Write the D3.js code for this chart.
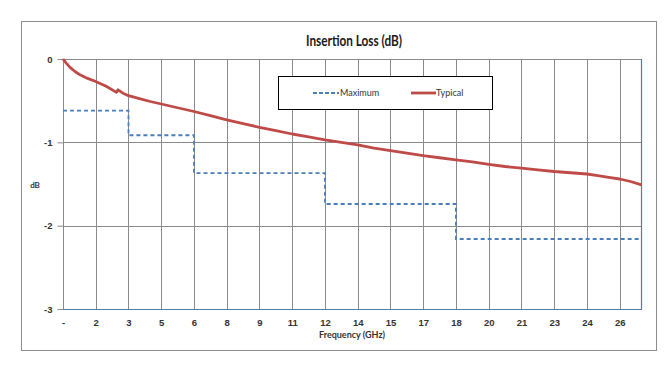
<!DOCTYPE html>
<html>
<head>
<meta charset="utf-8">
<script src="https://cdn.jsdelivr.net/npm/d3@7/dist/d3.min.js"></script>
<style>
  body { margin: 0; background: #fff; }
  svg { display: block; font-family: Lato, "Open Sans", sans-serif; }
</style>
</head>
<body>
<svg width="665" height="368"></svg>
<script>
// frequency ticks every 1.5 GHz, labelled with 0 decimals like the sheet
var tickFreqs = [0, 1.5, 3, 4.5, 6, 7.5, 9, 10.5, 12, 13.5, 15, 16.5, 18, 19.5, 21, 22.5, 24, 25.5];
var yTicks = [0, -1, -2, -3];

// maximum spec: band edges (GHz) and limit (dB)
var maxEdges = [0, 3, 6, 12, 18, 26.5];
var maxLoss = [-0.62, -0.915, -1.37, -1.74, -2.16];

// typical measured curve
var typFreq = [0, 0.15, 0.32, 0.55, 0.78, 1.1, 1.5, 2.0, 2.45, 2.52, 2.75, 3.0, 3.5, 4.0, 4.5, 5.25, 6.0,
  6.75, 7.5, 8.25, 9.0, 9.75, 10.5, 11.25, 12.0, 12.75, 13.5, 14.25, 15.0, 15.75, 16.5, 17.25, 18.0,
  18.75, 19.5, 20.25, 21.0, 21.75, 22.5, 23.25, 24.0, 24.5, 25.0, 25.5, 26.0, 26.5];
var typLoss = [0, -0.05, -0.10, -0.15, -0.19, -0.23, -0.27, -0.33, -0.40, -0.37, -0.41, -0.44, -0.475, -0.51, -0.54, -0.585, -0.63,
  -0.68, -0.73, -0.775, -0.82, -0.86, -0.90, -0.935, -0.97, -1.0, -1.03, -1.07, -1.10, -1.13, -1.16, -1.185, -1.21,
  -1.235, -1.265, -1.29, -1.31, -1.33, -1.35, -1.365, -1.38, -1.40, -1.42, -1.44, -1.47, -1.51];

var svg = d3.select("svg"),
    width = +svg.attr("width"),
    height = +svg.attr("height");

var plotLeft = 63, plotRight = 641.5, plotTop = 59, plotBottom = 309;

var x = d3.scaleLinear().domain([0, 26.5]).range([plotLeft, plotRight]);
var y = d3.scaleLinear().domain([-3, 0]).range([plotBottom, plotTop]);

// outer chart frame
svg.append("rect")
    .attr("x", 21.5).attr("y", 21.5)
    .attr("width", 635).attr("height", 329)
    .attr("fill", "#fff")
    .attr("stroke", "#8c8c8c");

svg.append("text")
    .attr("x", 354).attr("y", 46)
    .attr("text-anchor", "middle")
    .attr("font-size", 15.5)
    .attr("font-weight", "bold")
    .attr("fill", "#1a1a1a")
    .attr("textLength", 96)
    .attr("lengthAdjust", "spacingAndGlyphs")
    .text("Insertion Loss (dB)");

// vertical gridlines
svg.append("g")
    .selectAll("line")
    .data(tickFreqs)
    .enter()
    .append("line")
    .attr("x1", function (d) { return Math.round(x(d)) + 0.5; })
    .attr("x2", function (d) { return Math.round(x(d)) + 0.5; })
    .attr("y1", plotTop).attr("y2", plotBottom)
    .attr("stroke", "#8a8a8a");

// horizontal gridlines
svg.append("g")
    .selectAll("line")
    .data(yTicks.slice(0, 3))
    .enter()
    .append("line")
    .attr("x1", plotLeft).attr("x2", plotRight)
    .attr("y1", function (d) { return Math.round(y(d)) + 0.5; })
    .attr("y2", function (d) { return Math.round(y(d)) + 0.5; })
    .attr("stroke", "#8a8a8a");

// y axis (ticks + labels), plain hyphen for the minus like the sheet
var yAxis = d3.axisLeft(y)
    .tickValues(yTicks)
    .tickSize(6)
    .tickFormat(function (d) { return String(d); });
var gy = svg.append("g")
    .attr("transform", "translate(" + (plotLeft + 0.5) + ",0)")
    .call(yAxis);
gy.select(".domain").remove();
gy.selectAll("line").attr("stroke", "#8a8a8a");
gy.selectAll("text")
    .attr("font-size", 9.5)
    .attr("font-weight", "bold")
    .attr("fill", "#333")
    .attr("x", -11);

// x axis labels
var xAxis = d3.axisBottom(x)
    .tickValues(tickFreqs)
    .tickSize(0)
    .tickPadding(10)
    .tickFormat(function (d) { return d === 0 ? "-" : String(Math.round(d)); });
var gx = svg.append("g")
    .attr("transform", "translate(0," + plotBottom + ")")
    .call(xAxis);
gx.select(".domain").remove();
gx.selectAll("text")
    .attr("font-size", 9.5)
    .attr("font-weight", "bold")
    .attr("fill", "#333");

// bottom axis and right edge in blue-grey
svg.append("line")
    .attr("x1", plotLeft).attr("x2", plotRight + 0.5)
    .attr("y1", plotBottom + 0.5).attr("y2", plotBottom + 0.5)
    .attr("stroke", "#4f7fa3").attr("stroke-width", 1.2);
svg.append("line")
    .attr("x1", plotRight).attr("x2", plotRight)
    .attr("y1", plotTop).attr("y2", plotBottom + 0.5)
    .attr("stroke", "#4f7fa3").attr("stroke-width", 1.2);

svg.append("text")
    .attr("x", 352).attr("y", 338)
    .attr("text-anchor", "middle")
    .attr("font-size", 9)
    .attr("font-weight", "bold")
    .attr("fill", "#333")
    .text("Frequency (GHz)");

svg.append("text")
    .attr("x", 35).attr("y", 188)
    .attr("text-anchor", "middle")
    .attr("font-size", 8)
    .attr("font-weight", "bold")
    .attr("fill", "#333")
    .text("dB");

// maximum (step) line
var maxPts = maxLoss.map(function (v, i) { return [maxEdges[i], v]; });
maxPts.push([maxEdges[maxEdges.length - 1], maxLoss[maxLoss.length - 1]]);
var stepLine = d3.line()
    .x(function (d) { return x(d[0]); })
    .y(function (d) { return y(d[1]); })
    .curve(d3.curveStepAfter);
svg.append("path")
    .datum(maxPts)
    .attr("fill", "none")
    .attr("stroke", "#4a7ebb")
    .attr("stroke-width", 1.8)
    .attr("stroke-dasharray", "4,3")
    .attr("d", stepLine);

// typical line
var typPts = typFreq.map(function (f, i) { return [f, typLoss[i]]; });
var line = d3.line()
    .x(function (d) { return x(d[0]); })
    .y(function (d) { return y(d[1]); });
svg.append("path")
    .datum(typPts)
    .attr("fill", "none")
    .attr("stroke", "#be4b48")
    .attr("stroke-width", 2.8)
    .attr("stroke-linejoin", "round")
    .attr("d", line);

// legend
var legend = svg.append("g");
legend.append("rect")
    .attr("x", 278.5).attr("y", 76.5)
    .attr("width", 214).attr("height", 33)
    .attr("fill", "#fff")
    .attr("stroke", "#000");
legend.append("line")
    .attr("x1", 313).attr("x2", 339).attr("y1", 93).attr("y2", 93)
    .attr("stroke", "#4a7ebb").attr("stroke-width", 1.8)
    .attr("stroke-dasharray", "4,2");
legend.append("text")
    .attr("x", 340).attr("y", 96)
    .attr("font-size", 9).attr("fill", "#333")
    .text("Maximum");
legend.append("line")
    .attr("x1", 411).attr("x2", 436).attr("y1", 93).attr("y2", 93)
    .attr("stroke", "#be4b48").attr("stroke-width", 2.8);
legend.append("text")
    .attr("x", 436).attr("y", 96)
    .attr("font-size", 9).attr("fill", "#333")
    .text("Typical");
</script>
</body>
</html>
